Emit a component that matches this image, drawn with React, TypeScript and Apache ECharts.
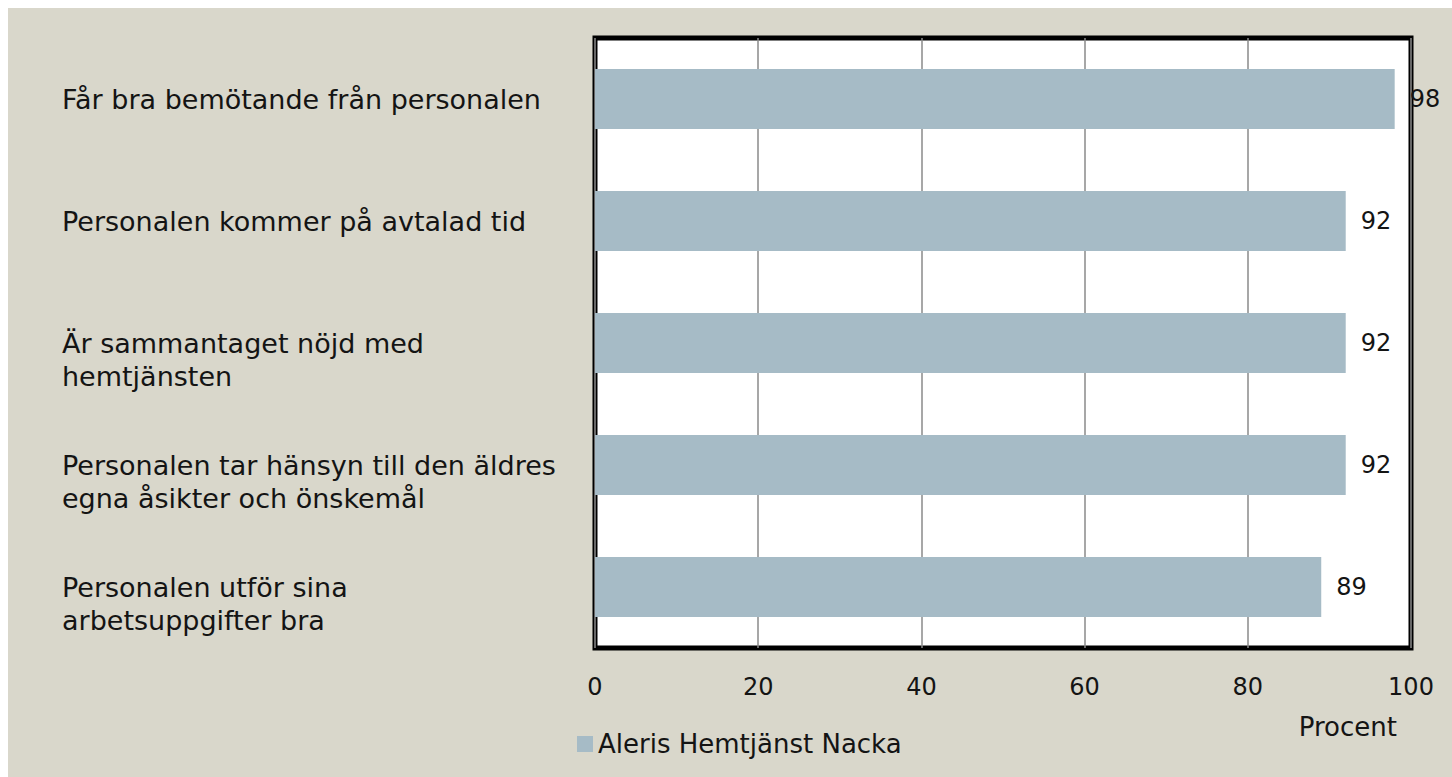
import React, { useEffect, useRef } from "react";
import * as echarts from "echarts";

const categories: string[] = [
  "Får bra bemötande från personalen",
  "Personalen kommer på avtalad tid",
  "Är sammantaget nöjd med\nhemtjänsten",
  "Personalen tar hänsyn till den äldres\negna åsikter och önskemål",
  "Personalen utför sina\narbetsuppgifter bra",
];
const values: number[] = [98, 92, 92, 92, 89];
const seriesName = "Aleris Hemtjänst Nacka";
const axisName = "Procent";
const xTicks: number[] = [0, 20, 40, 60, 80, 100];

const FONT = "DejaVu Sans";
const TEXT = "#141414";

export default function App() {
  const ref = useRef<HTMLDivElement>(null);
  useEffect(() => {
    if (!ref.current) return;
    const chart = echarts.init(ref.current, undefined, { renderer: "svg" });
    chart.setOption({
      animation: false,
      backgroundColor: "#d9d7cb",
      textStyle: { fontFamily: FONT, color: TEXT },
      grid: {
        left: 587,
        right: 41,
        top: 30,
        height: 610,
        show: true,
        backgroundColor: "#ffffff",
        borderColor: "#000000",
        borderWidth: 5,
      },
      legend: {
        left: 564,
        top: 718,
        itemWidth: 16,
        itemHeight: 16,
        icon: "rect",
        textStyle: { fontFamily: FONT, fontSize: 26, color: TEXT },
        data: [seriesName],
      },
      xAxis: {
        type: "value",
        min: xTicks[0],
        max: xTicks[xTicks.length - 1],
        interval: xTicks[1] - xTicks[0],
        name: axisName,
        nameLocation: "end",
        nameGap: -14,
        nameTextStyle: {
          fontFamily: FONT,
          fontSize: 26,
          color: TEXT,
          align: "right",
          verticalAlign: "top",
          padding: [66, 0, 0, 0],
        },
        axisLine: { show: false },
        axisTick: { show: false },
        axisLabel: { fontFamily: FONT, fontSize: 24, color: TEXT, margin: 27 },
        splitLine: { show: true, lineStyle: { color: "#8a8a8a", width: 1.5 } },
      },
      yAxis: {
        type: "category",
        inverse: true,
        data: categories,
        axisLine: { show: false },
        axisTick: { show: false },
        splitLine: { show: false },
        axisLabel: {
          fontFamily: FONT,
          fontSize: 27,
          color: TEXT,
          align: "left",
          margin: 533,
          lineHeight: 33,
          padding: [20, 0, 0, 0],
          formatter: (v: string) => (v.indexOf("\n") >= 0 ? "\n" + v : v),
        },
      },
      series: [
        {
          name: seriesName,
          type: "bar",
          data: values,
          barWidth: 60,
          itemStyle: { color: "#a6bbc6" },
          label: {
            show: true,
            position: "right",
            distance: 15,
            fontFamily: FONT,
            fontSize: 24,
            color: TEXT,
          },
        },
      ],
    });
    return () => chart.dispose();
  }, []);
  return (
    <div
      ref={ref}
      style={{ position: "fixed", left: 8, top: 8, width: 1444, height: 769 }}
    />
  );
}
